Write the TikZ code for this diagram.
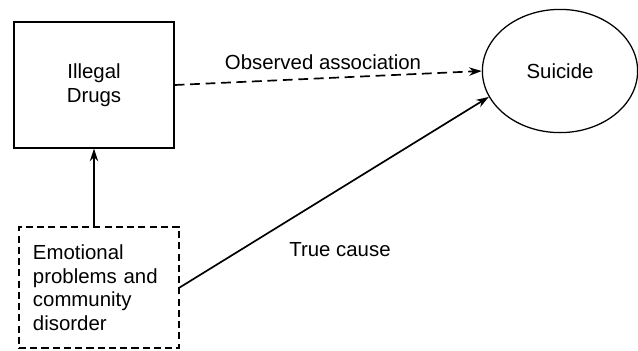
\documentclass[tikz,border=0pt]{standalone}
\usepackage{fontspec}
\setmainfont{Liberation Sans}
\usepackage{tikz}
\usetikzlibrary{
  arrows.meta,
  positioning,
  shapes.geometric
}

\begin{document}
\begin{tikzpicture}[x=0.025cm, y=-0.025cm,
  box/.style={rectangle, draw=black, line width=0.9pt,
              minimum width=4cm, font=\fontsize{14.5}{16.7}\selectfont,
              align=center},
  arrow/.style={-{Stealth[length=9pt, width=6pt]}, line width=1.2pt},
  lbl/.style={font=\fontsize{14.5}{16.7}\selectfont}
]
  \useasboundingbox (0,0) rectangle (638,350);

  % Variables
  \node[box, minimum height=3.15cm] (drugs) at (94, 85)
    {Illegal\\Drugs};

  \node[box, dash pattern=on 5pt off 3pt, minimum height=3.03cm,
        text width=3.3cm, align=left]
    (emotion) at (99, 287.5)
    {Emotional\\problems and\\community\\disorder};

  \node[ellipse, draw=black, line width=0.9pt, minimum width=3.88cm,
        minimum height=3.08cm, font=\fontsize{14.5}{16.7}\selectfont]
    (suicide) at (560, 71) {Suicide};

  % Arrows
  \draw[arrow, dash pattern=on 7pt off 4pt] (drugs.east) -- (suicide.west);
  \draw[arrow] (drugs.south |- emotion.north) -- (drugs.south);
  \draw[arrow] (emotion.east) -- (suicide.200);

  % Labels on arrows
  \node[lbl] (obs) at (323, 62) {Observed association};
  \node[lbl] (cause) at (340, 250) {True cause};
\end{tikzpicture}
\end{document}
